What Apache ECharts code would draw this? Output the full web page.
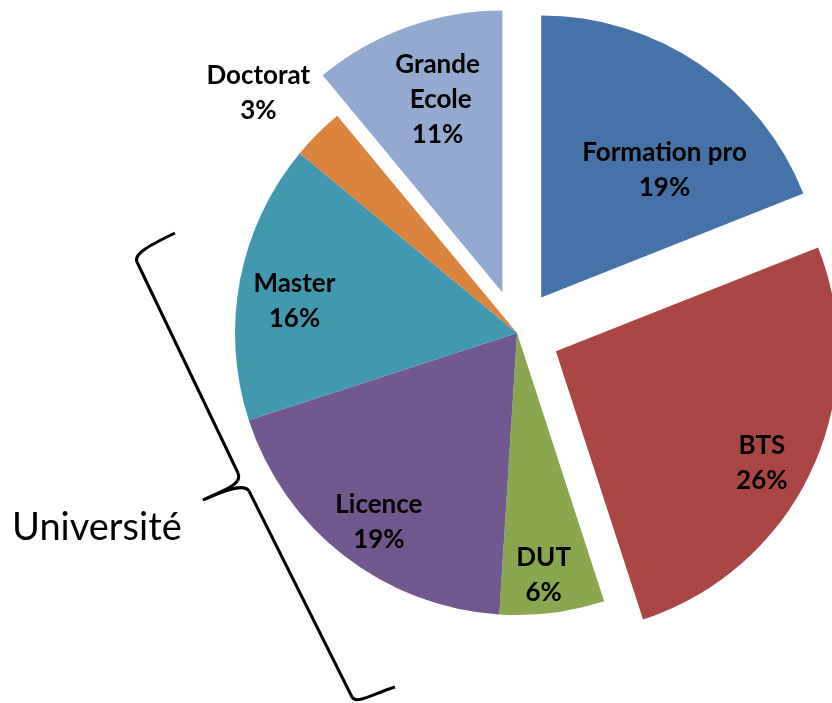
<!DOCTYPE html>
<html>
<head>
<meta charset="utf-8">
<script src="https://cdn.jsdelivr.net/npm/echarts@6/dist/echarts.min.js"></script>
<style>
  html, body { margin: 0; padding: 0; background: #fff; }
  #chart { width: 832px; height: 703px; }
</style>
</head>
<body>
<div id="chart"></div>
<script>
// ---- data ----
const categories = ['Formation pro', 'BTS', 'DUT', 'Licence', 'Master', 'Doctorat', 'Grande Ecole'];
const shares = [19, 26, 6, 19, 16, 3, 11];
const exploded = [true, true, false, false, false, false, true];
const groupLabel = 'Université';

// ---- styling ----
const colors = ['#4572A7', '#AA4643', '#8AA64F', '#71588F', '#4298AF', '#DB843D', '#93A9CF'];
// label nudges (pixels) relative to the library's inside-label anchor
const labelOffsets = {
  'Formation pro': [19, 26],
  'BTS': [38, 33],
  'DUT': [-2, 15],
  'Licence': [2, 8],
  'Master': [2, 11],
  'Doctorat': [-97, -78],
  'Grande Ecole': [-2, -18]
};
const labelWidths = { 'Grande Ecole': 90 };

const CENTER = [517, 333];
const R = 282;
const OFFSET = 43;

const chart = echarts.init(document.getElementById('chart'), null, { renderer: 'canvas' });

const baseData = categories.map((c, i) => ({
  name: c,
  value: shares[i],
  selected: exploded[i],
  itemStyle: { color: colors[i] },
  select: { itemStyle: { color: colors[i] } }
}));

const labelData = categories.map((c, i) => {
  const lbl = { offset: labelOffsets[c] || [0, 0] };
  if (labelWidths[c]) { lbl.width = labelWidths[c]; lbl.overflow = 'break'; }
  return { name: c, value: shares[i], label: lbl };
});

const option = {
  animation: false,
  backgroundColor: '#ffffff',
  series: [
    {
      type: 'pie',
      center: CENTER,
      radius: [0, R],
      startAngle: 90,
      clockwise: true,
      selectedMode: 'multiple',
      selectedOffset: OFFSET,
      silent: true,
      label: { show: false },
      labelLine: { show: false },
      itemStyle: { borderWidth: 0 },
      emphasis: { disabled: true },
      data: baseData
    },
    {
      type: 'pie',
      center: CENTER,
      radius: [R * 0.6, R],
      startAngle: 90,
      clockwise: true,
      selectedMode: false,
      silent: true,
      percentPrecision: 0,
      avoidLabelOverlap: false,
      itemStyle: { color: 'rgba(0,0,0,0)', borderWidth: 0 },
      emphasis: { disabled: true },
      labelLine: { show: false },
      label: {
        show: true,
        position: 'inside',
        formatter: '{b}\n{d}%',
        color: '#000',
        fontFamily: 'Lato',
        fontWeight: 'bold',
        fontSize: 26,
        lineHeight: 35,
        align: 'center',
        textBorderWidth: 0
      },
      data: labelData
    }
  ],
  graphic: [
    {
      type: 'text',
      style: {
        text: groupLabel,
        x: 12,
        y: 528,
        font: '38px Lato',
        fill: '#000',
        verticalAlign: 'middle'
      }
    },
    {
      type: 'bezierCurve',
      shape: { x1: 175, y1: 233, cpx1: 150, cpy1: 245, x2: 137, y2: 262, cpx2: 133, cpy2: 254 },
      style: { stroke: '#000', lineWidth: 3, fill: null }
    },
    {
      type: 'line',
      shape: { x1: 137, y1: 262, x2: 238, y2: 473 },
      style: { stroke: '#000', lineWidth: 3 }
    },
    {
      type: 'bezierCurve',
      shape: { x1: 238, y1: 473, cpx1: 243, cpy1: 484, x2: 203, y2: 500, cpx2: 225, cpy2: 490 },
      style: { stroke: '#000', lineWidth: 3, fill: null }
    },
    {
      type: 'bezierCurve',
      shape: { x1: 203, y1: 500, cpx1: 225, cpy1: 490, x2: 249, y2: 491, cpx2: 244, cpy2: 483 },
      style: { stroke: '#000', lineWidth: 3, fill: null }
    },
    {
      type: 'line',
      shape: { x1: 249, y1: 491, x2: 352, y2: 697 },
      style: { stroke: '#000', lineWidth: 3 }
    },
    {
      type: 'bezierCurve',
      shape: { x1: 352, y1: 697, cpx1: 356, cpy1: 705, x2: 395, y2: 687, cpx2: 375, cpy2: 693 },
      style: { stroke: '#000', lineWidth: 3, fill: null }
    }
  ]
};

chart.setOption(option);
</script>
</body>
</html>
